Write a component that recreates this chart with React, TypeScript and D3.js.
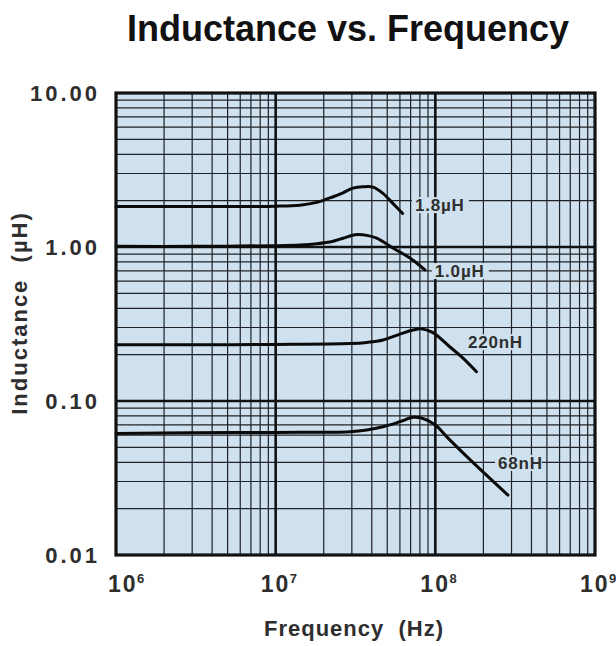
import React from "react";
import * as d3 from "d3";

const title = "Inductance vs. Frequency";
const xTitle = "Frequency  (Hz)";
const yTitle = "Inductance  (µH)";

const xTickExps = [6, 7, 8, 9];
const yTickValues = [10, 1, 0.1, 0.01];
const yTickLabels = ["10.00", "1.00", "0.10", "0.01"];

const seriesNames = ["1.8µH", "1.0µH", "220nH", "68nH"];
const freq18 = [1e6, 3e6, 1e7, 1.42e7, 1.81e7, 2.29e7, 2.64e7, 3.05e7, 3.52e7, 4.07e7, 4.7e7, 5.42e7, 6.24e7];
const ind18 = [1.83, 1.83, 1.84, 1.87, 1.95, 2.12, 2.25, 2.41, 2.46, 2.45, 2.23, 1.92, 1.65];
const freq10 = [1e6, 3e6, 1e7, 1.42e7, 1.81e7, 2.29e7, 2.64e7, 3.14e7, 3.72e7, 4.29e7, 5.42e7, 6.93e7, 8.61e7];
const ind10 = [1.01, 1.01, 1.02, 1.03, 1.05, 1.09, 1.14, 1.2, 1.19, 1.14, 0.985, 0.848, 0.71];
const freq220 = [1e6, 3e6, 1e7, 2.92e7, 3.72e7, 4.7e7, 6.0e7, 7.25e7, 8.2e7, 9.66e7, 1.23e8, 1.49e8, 1.81e8];
const ind220 = [0.232, 0.232, 0.233, 0.236, 0.24, 0.249, 0.272, 0.289, 0.294, 0.278, 0.225, 0.19, 0.155];
const freq68 = [1e6, 3e6, 1e7, 2.92e7, 3.72e7, 4.7e7, 6.0e7, 7.25e7, 8.2e7, 1e8, 1.18e8, 1.57e8, 2.09e8, 2.85e8];
const ind68 = [0.0615, 0.0622, 0.0625, 0.0632, 0.0648, 0.068, 0.0734, 0.0784, 0.0775, 0.0699, 0.0585, 0.0437, 0.033, 0.0245];

const labelFreq = [7.45e7, 9.93e7, 1.6e8, 2.47e8];
const labelInd = [1.87, 0.698, 0.241, 0.0396];

const W = 616;
const H = 646;
const left = 116;
const right = 595;
const top = 93;
const bottom = 555;
const bg = "#cfe1ee";
const gridColor = "#1e2226";
const textColor = "#2e2e2e";
const font = "'Liberation Sans', Arial, Helvetica, sans-serif";

export default function App() {
  const x = d3.scaleLog().domain([1e6, 1e9]).range([left, right]);
  const y = d3.scaleLog().domain([0.01, 10]).range([bottom, top]);

  const minorX: number[] = [];
  for (let e = 6; e < 9; e++) for (let m = 2; m <= 9; m++) minorX.push(m * Math.pow(10, e));
  const minorY: number[] = [];
  for (let e = -2; e < 1; e++) for (let m = 2; m <= 9; m++) minorY.push(m * Math.pow(10, e));

  const series = [
    { f: freq18, l: ind18 },
    { f: freq10, l: ind10 },
    { f: freq220, l: ind220 },
    { f: freq68, l: ind68 },
  ];
  const line = d3
    .line<[number, number]>()
    .x((d) => x(d[0]))
    .y((d) => y(d[1]))
    .curve(d3.curveCatmullRom.alpha(0.5));

  return (
    <svg width={W} height={H} style={{ position: "absolute", left: 0, top: 0, background: "#fff" }}>
      <text x={348} y={41} textAnchor="middle" fontFamily={font} fontWeight="bold" fontSize={36} fill="#111">
        {title}
      </text>
      <rect x={left} y={top} width={right - left} height={bottom - top} fill={bg} />
      {minorX.map((v, i) => (
        <line key={"mx" + i} x1={x(v)} x2={x(v)} y1={top} y2={bottom} stroke={gridColor} strokeWidth={1.2} />
      ))}
      {minorY.map((v, i) => (
        <line key={"my" + i} y1={y(v)} y2={y(v)} x1={left} x2={right} stroke={gridColor} strokeWidth={1.2} />
      ))}
      {[1e7, 1e8].map((v, i) => (
        <line key={"Mx" + i} x1={x(v)} x2={x(v)} y1={top} y2={bottom} stroke="#111" strokeWidth={2.6} />
      ))}
      {[0.1, 1].map((v, i) => (
        <line key={"My" + i} y1={y(v)} y2={y(v)} x1={left} x2={right} stroke="#111" strokeWidth={2.6} />
      ))}
      {series.map((s, i) => (
        <path
          key={"s" + i}
          d={line(s.f.map((f, j) => [f, s.l[j]] as [number, number])) || ""}
          fill="none"
          stroke="#0a0a0a"
          strokeWidth={3}
          strokeLinecap="round"
        />
      ))}
      {seriesNames.map((n, i) => {
        const lx = x(labelFreq[i]);
        const ly = y(labelInd[i]);
        const w = n.length * 10.2;
        return (
          <g key={"l" + i}>
            <rect x={lx - 3} y={ly - 8} width={w + 6} height={16} fill={bg} />
            <text
              x={lx}
              y={ly + 6}
              fontFamily={font}
              fontWeight="bold"
              fontSize={17}
              letterSpacing={0.8}
              fill={textColor}
            >
              {n}
            </text>
          </g>
        );
      })}
      <rect x={left} y={top} width={right - left} height={bottom - top} fill="none" stroke="#111" strokeWidth={3.2} />
      {yTickValues.map((v, i) => (
        <text
          key={"yt" + i}
          x={100}
          y={y(v) + 8}
          textAnchor="end"
          fontFamily={font}
          fontWeight="bold"
          fontSize={22}
          letterSpacing={3}
          fill={textColor}
        >
          {yTickLabels[i]}
        </text>
      ))}
      {xTickExps.map((e, i) => (
        <text
          key={"xt" + i}
          x={Math.max(108, x(Math.pow(10, e)) - 15)}
          y={592}
          fontFamily={font}
          fontWeight="bold"
          fontSize={23}
          fill={textColor}
        >
          <tspan letterSpacing={2}>1</tspan>
          <tspan>0</tspan>
          <tspan dx={1.5} dy={-9} fontSize={13}>
            {e}
          </tspan>
        </text>
      ))}
      <text
        x={354}
        y={636}
        textAnchor="middle"
        fontFamily={font}
        fontWeight="bold"
        fontSize={22}
        letterSpacing={1}
        fill={textColor}
        xmlSpace="preserve"
      >
        {xTitle}
      </text>
      <text
        transform={`translate(27, 313) rotate(-90)`}
        textAnchor="middle"
        fontFamily={font}
        fontWeight="bold"
        fontSize={22}
        letterSpacing={2}
        fill={textColor}
        xmlSpace="preserve"
      >
        {yTitle}
      </text>
    </svg>
  );
}
